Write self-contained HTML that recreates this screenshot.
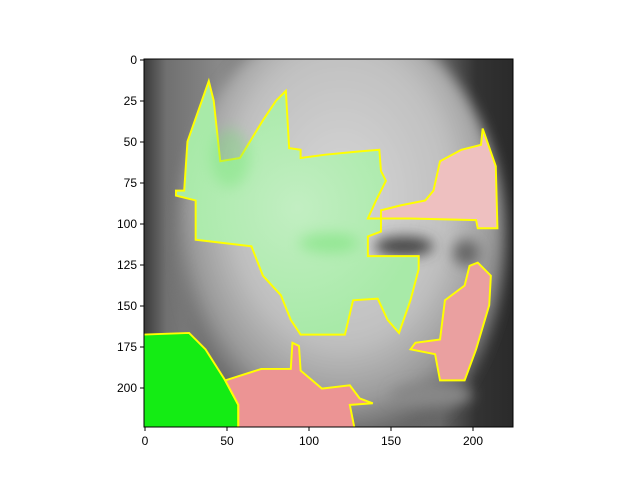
<!DOCTYPE html>
<html><head><meta charset="utf-8"><style>
body{margin:0;background:#fff;}
svg text{font-family:"Liberation Sans","DejaVu Sans",sans-serif;font-size:12px;fill:#000;}
</style></head><body>
<svg width="640" height="480" xmlns="http://www.w3.org/2000/svg">
<defs>
<radialGradient id="face" cx="0.5" cy="0.4" r="0.55">
<stop offset="0" stop-color="#d6d6d6"/><stop offset="0.6" stop-color="#c0c0c0"/><stop offset="0.85" stop-color="#9a9a9a"/><stop offset="1" stop-color="#666"/>
</radialGradient>
<linearGradient id="bg" x1="0" x2="1">
<stop offset="0" stop-color="#3a3a3a"/><stop offset="0.06" stop-color="#707070"/><stop offset="0.2" stop-color="#888"/><stop offset="0.8" stop-color="#666"/><stop offset="0.9" stop-color="#333"/><stop offset="1" stop-color="#2a2a2a"/>
</linearGradient>
<radialGradient id="gr" cx="0.5" cy="0.5" r="0.5">
<stop offset="0" stop-color="#c2eec2"/><stop offset="1" stop-color="#a8eaa8"/>
</radialGradient>
<filter id="blur" x="-100%" y="-100%" width="300%" height="300%"><feGaussianBlur stdDeviation="4"/></filter>
<clipPath id="cl"><rect x="-0.5" y="-0.5" width="225" height="225"/></clipPath>
</defs>
<svg x="144" y="59" width="369" height="368" viewBox="-0.5 -0.5 225 225" preserveAspectRatio="none">
<g clip-path="url(#cl)">
<rect x="-0.5" y="-0.5" width="225" height="225" fill="url(#bg)"/>
<ellipse cx="120" cy="110" rx="100" ry="135" fill="url(#face)" filter="url(#blur)"/>
<ellipse cx="158" cy="114" rx="18" ry="6" fill="#444" filter="url(#blur)"/>
<ellipse cx="196" cy="118" rx="8" ry="8" fill="#666" filter="url(#blur)"/>
<ellipse cx="175" cy="205" rx="25" ry="7" fill="#888" filter="url(#blur)"/>
<g stroke="#ffff00" stroke-width="1.2" stroke-linejoin="miter">
<polygon fill="url(#gr)" points="26,50 39,13 42,25 46,62 58,60 72,37 80,25 86,19 88,54 95,55 95,60 110,58 131,56 143,55 144,68 147,74 141,86 136,97 144,97 144,105 136,108 136,120 167,120 167,128 162,147 155,167 148,159 142,146 127,147 122,168 95,168 89,159 83,144 72,132 65,114 31,110 31,86 19,83 19,80 24,80"/>
<polygon fill="#eec0c0" points="176,80 180,62 193,55 205,52 206,42 214,65 215,103 203,103 202,98 162,97 144,97 144,92 156,89 171,86"/>
<polygon fill="#eaa0a0" points="203,124 211,132 210,150 202,177 195,196 180,196 177,180 162,177 165,173 180,171 183,147 195,138 198,126"/>
<polygon fill="#14ec14" points="-1,168 27,167 37,177 49,196 57,211 57,226 -1,226"/>
<polygon fill="#ec9494" points="49,196 71,189 89,189 90,173 94,175 95,190 108,201 125,199 131,207 139,210 125,211 128,226 57,226 57,211"/>
</g>
<ellipse cx="112" cy="112" rx="18" ry="6" fill="#5ee05e" opacity="0.4" filter="url(#blur)"/>
<ellipse cx="52" cy="60" rx="12" ry="18" fill="#6ee26e" opacity="0.35" filter="url(#blur)"/>
</g>
</svg>
<rect x="144" y="59" width="369" height="368" fill="none" stroke="#000" stroke-width="1"/>
<g>
<g stroke="#000"><line x1="145" y1="427" x2="145" y2="431"/><line x1="227" y1="427" x2="227" y2="431"/><line x1="309" y1="427" x2="309" y2="431"/><line x1="391" y1="427" x2="391" y2="431"/><line x1="473" y1="427" x2="473" y2="431"/></g>
<text x="145" y="445" text-anchor="middle">0</text><text x="227" y="445" text-anchor="middle">50</text><text x="309" y="445" text-anchor="middle">100</text><text x="391" y="445" text-anchor="middle">150</text><text x="473" y="445" text-anchor="middle">200</text>
</g>
<g>
<g stroke="#000"><line x1="140" y1="60" x2="144" y2="60"/><line x1="140" y1="101" x2="144" y2="101"/><line x1="140" y1="142" x2="144" y2="142"/><line x1="140" y1="183" x2="144" y2="183"/><line x1="140" y1="224" x2="144" y2="224"/><line x1="140" y1="265" x2="144" y2="265"/><line x1="140" y1="306" x2="144" y2="306"/><line x1="140" y1="347" x2="144" y2="347"/><line x1="140" y1="388" x2="144" y2="388"/></g>
<text x="137" y="64" text-anchor="end">0</text><text x="137" y="105" text-anchor="end">25</text><text x="137" y="146" text-anchor="end">50</text><text x="137" y="187" text-anchor="end">75</text><text x="137" y="228" text-anchor="end">100</text><text x="137" y="269" text-anchor="end">125</text><text x="137" y="310" text-anchor="end">150</text><text x="137" y="351" text-anchor="end">175</text><text x="137" y="392" text-anchor="end">200</text>
</g>
</svg>
</body></html>
